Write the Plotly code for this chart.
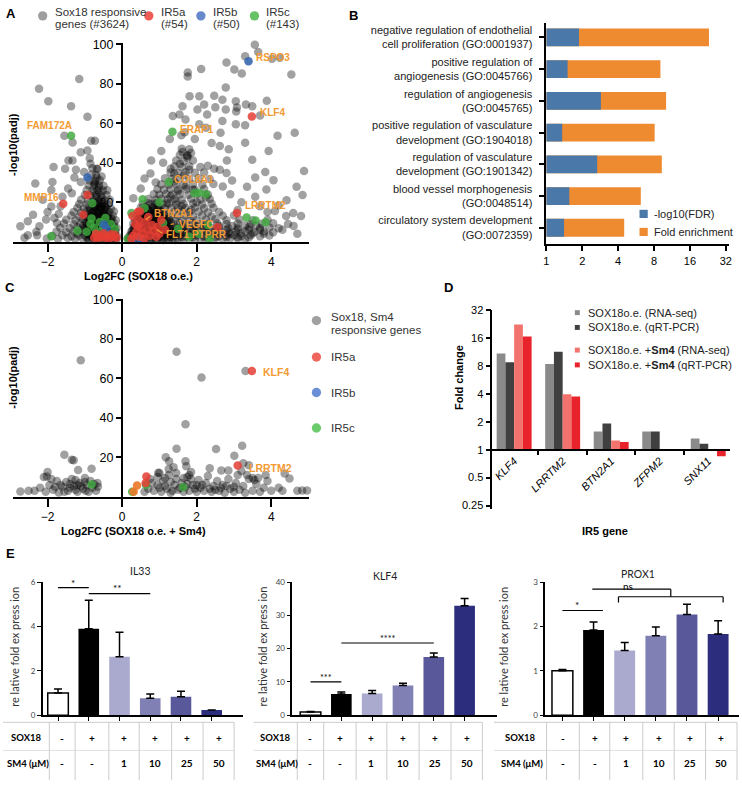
import numpy as np
import plotly.graph_objects as go

W, H = 742, 785
def px(X): return X / W
def py(Y): return 1 - Y / H

SANS = "Liberation Sans, Arial, Helvetica, sans-serif"
CAL = "Lato, Liberation Sans, sans-serif"
ORANGE_TXT = "#f39a33"

# ---------------- Panel A data (Log2FC, -log10 padj) ----------------
a_gray_sparse = [(-1.15,82.5),(-2.23,77.5),(-1.98,71.2),(-1.37,68.7),(-0.93,63.3),(-1.55,53.7),(-1.33,50.3),(-0.83,51.2),(-0.73,51.2),(-1.11,45.3),(-0.93,46.2),(-0.87,42.3),(-1.44,41.2),(-1.33,41.2),(-1.84,37.8),(-1.53,37.0),(-1.24,36.5),(-0.68,37.0),(-0.85,39.5),(-1.02,35.3),(-1.28,32.5),(-2.33,29.5),(-1.87,30.3),(-1.11,30.3),(-1.90,26.2),(-1.60,22.8),(-2.13,21.2),(-1.90,17.8),(-2.39,13.7),(-2.53,10.3),(-2.73,7.8),(-2.53,3.2),(-2.22,7.8),(-2.04,11.2),(-1.70,14.0),(-1.82,12.0),(-1.65,18.0),(-2.00,15.0),(-2.62,2.0),(-2.30,5.0),(-1.75,9.5),(-1.45,27.0),(-1.35,24.5),(-0.72,29.0),(-0.62,25.0),(-0.55,33.0),
 (3.56,99.8),(3.65,96.2),(4.23,93.2),(4.02,92.8),(3.30,94.0),(2.80,90.8),(3.01,87.3),(3.21,85.3),(4.54,84.8),(2.12,87.5),(1.76,85.8),(1.76,83.7),(2.78,78.2),(1.81,73.7),(2.07,73.7),(2.47,74.0),(2.69,72.0),(3.05,71.2),(3.32,69.5),(3.88,71.5),(1.62,68.7),(2.02,67.0),(2.20,69.5),(2.78,67.0),(2.50,68.2),(3.08,68.0),(3.06,66.0),(3.49,68.7),(1.36,63.7),(1.54,64.5),(2.28,64.5),(2.69,61.2),(3.05,59.5),(2.07,59.5),(2.25,57.8),(1.28,52.0),(1.68,55.5),(1.59,54.0),(2.64,55.2),(3.30,50.2),(2.62,48.5),(2.86,46.8),(3.93,46.0),(4.17,53.7),(4.63,55.2),(1.62,45.5),(1.75,43.5),(1.85,45.0),(2.30,38.5),(2.47,37.0),(2.62,36.5),(2.80,34.8),(2.81,41.2),(3.49,41.5),(0.78,41.2),(0.76,34.5),(1.30,37.0),(1.40,34.5),(3.84,35.3),(4.88,35.8),(3.57,32.5),(4.06,31.2),(4.68,27.8),(4.84,23.7),(5.03,25.0),(3.87,26.5),(3.35,27.8),(3.57,22.8),(4.41,21.0),(4.59,14.5),(4.40,13.0),(4.80,13.0),(4.10,15.5),(4.20,18.5),(3.70,18.0),(3.20,20.0),(2.90,24.0),(2.70,28.0),(2.95,31.0),(3.10,16.0),(4.45,9.0),(4.70,4.0),(0.90,30.0),(0.50,27.0),(0.30,22.0),(0.60,32.0),(1.10,40.0),(1.05,46.0),(1.70,62.0),(1.95,52.0),(2.40,50.0),(3.30,59.0),(3.70,64.0),(4.30,6.0),(4.60,8.0),(3.90,15.0)]

a_gray_dense_left = [(-2.02,1.6),(-1.72,1.4),(-1.46,1.8),(-1.26,1.3),(-1.06,1.7),(-0.91,1.4),(-0.76,1.6),(-0.61,1.3),(-0.46,1.7),(-0.31,1.4),(-0.18,1.6),
 (-2.28,3.2),(-1.88,2.9),(-1.60,3.3),(-1.36,2.8),(-1.16,3.1),(-1.00,3.3),(-0.85,2.9),(-0.70,3.2),(-0.55,2.8),(-0.40,3.1),(-0.26,3.3),(-0.14,2.9),
 (-1.76,5.2),(-1.50,4.8),(-1.30,5.1),(-1.10,5.3),(-0.96,4.9),(-0.80,5.2),(-0.65,4.8),(-0.50,5.1),(-0.36,5.3),(-0.20,4.9),
 (-1.66,7.1),(-1.41,6.8),(-1.20,7.3),(-1.03,6.9),(-0.88,7.2),(-0.72,6.8),(-0.58,7.1),(-0.43,7.3),(-0.28,6.9),(-0.15,7.1),
 (-1.56,9.2),(-1.30,8.8),(-1.12,9.1),(-0.95,9.3),(-0.80,8.9),(-0.65,9.2),(-0.50,8.8),(-0.35,9.1),(-0.22,9.3),
 (-1.50,11.1),(-1.25,10.8),(-1.05,11.3),(-0.90,10.9),(-0.75,11.2),(-0.60,10.8),(-0.45,11.1),(-0.30,11.3),(-0.17,10.9),
 (-1.36,13.2),(-1.15,12.8),(-1.00,13.1),(-0.85,13.3),(-0.70,12.9),(-0.55,13.2),(-0.40,12.8),(-0.25,13.1),
 (-1.30,15.1),(-1.10,14.8),(-0.95,15.3),(-0.80,14.9),(-0.65,15.2),(-0.50,14.8),(-0.35,15.1),(-0.22,15.3),
 (-1.20,17.2),(-1.02,16.8),(-0.88,17.1),(-0.73,17.3),(-0.58,16.9),(-0.45,17.2),(-0.30,16.8),
 (-1.15,19.1),(-0.95,18.8),(-0.80,19.3),(-0.65,18.9),(-0.50,19.2),(-0.38,18.8),
 (-1.10,21.2),(-0.92,20.8),(-0.76,21.1),(-0.62,21.3),(-0.48,20.9),(-0.33,21.2),
 (-1.00,23.6),(-0.85,23.3),(-0.70,23.7),(-0.56,23.4),(-0.42,23.6),
 (-0.95,26.1),(-0.80,25.8),(-0.66,26.2),(-0.52,25.9),(-0.40,26.1),
 (-0.90,28.6),(-0.76,28.3),(-0.62,28.7),(-0.50,28.4),
 (-0.88,31.1),(-0.72,30.8),(-0.60,31.2),(-0.82,34.1),(-0.70,33.8),(-0.80,37.2),(-0.66,36.9),
 (-0.95,2.1),(-0.80,2.3),(-0.65,1.9),(-0.50,2.2),(-0.38,2.0),(-0.27,2.3),
 (-1.20,4.1),(-0.90,3.9),(-0.75,4.2),(-0.60,4.0),(-0.45,3.8),(-0.30,4.1),
 (-1.00,6.1),(-0.85,5.9),(-0.70,6.2),(-0.55,6.0),(-0.42,5.8),(-0.30,6.1),
 (-1.05,8.1),(-0.90,7.9),(-0.74,8.2),(-0.60,8.0),(-0.46,7.8),(-0.33,8.1),
 (-0.98,10.1),(-0.83,9.9),(-0.68,10.2),(-0.54,10.0),(-0.40,9.8),
 (-0.92,12.1),(-0.78,11.9),(-0.63,12.2),(-0.50,12.0),(-0.37,11.8),
 (-0.90,14.1),(-0.75,13.9),(-0.60,14.2),(-0.47,14.0),
 (-0.85,16.1),(-0.70,15.9),(-0.55,16.2),(-0.42,16.0),
 (-0.80,18.1),(-0.65,17.9),(-0.52,18.2),(-0.78,20.1),(-0.62,19.9),
 (-0.88,1.0),(-0.72,0.9),(-0.58,1.1),(-0.42,0.9),(-0.28,1.0),(-0.16,0.8),
 (-0.85,3.5),(-0.68,3.6),(-0.52,3.4),(-0.35,3.6),(-0.20,3.3),
 (-0.92,5.6),(-0.78,5.5),(-0.62,5.7),(-0.46,5.4),(-0.32,5.6),(-0.18,5.5),
 (-0.95,7.6),(-0.80,7.5),(-0.64,7.7),(-0.50,7.4),(-0.36,7.6),(-0.22,7.5),
 (-0.88,9.6),(-0.72,9.5),(-0.58,9.7),(-0.44,9.4),(-0.30,9.6),
 (-0.85,11.6),(-0.70,11.5),(-0.56,11.7),(-0.42,11.4),(-0.28,11.6),
 (-0.82,13.6),(-0.66,13.5),(-0.52,13.7),(-0.38,13.4),
 (-0.78,15.6),(-0.62,15.5),(-0.48,15.7),(-0.74,17.6),(-0.58,17.5),(-0.45,17.7),
 (-0.70,19.6),(-0.56,19.5),(-0.68,22.5),(-0.55,22.4),(-0.75,25.0),(-0.62,27.3),(-0.75,30.0),(-0.68,32.5)]

a_gray_dense_right = [(0.15,1.6),(0.30,1.3),(0.45,1.7),(0.60,1.4),(0.75,1.6),(0.90,1.3),(1.05,1.7),(1.20,1.5),(1.35,1.3),(1.50,1.7),(1.65,1.4),(1.80,1.6),(1.95,1.3),(2.10,1.7),(2.30,1.4),(2.50,1.6),(2.70,1.3),(2.90,1.7),(3.10,1.5),(3.30,1.4),
 (0.20,3.1),(0.35,2.8),(0.50,3.3),(0.65,2.9),(0.80,3.2),(0.95,2.8),(1.10,3.1),(1.25,3.3),(1.40,2.9),(1.55,3.2),(1.70,2.8),(1.85,3.1),(2.00,3.3),(2.20,2.9),(2.40,3.2),(2.60,2.8),(2.80,3.1),(3.00,3.3),(3.20,2.9),(3.45,3.2),(3.70,2.8),(3.95,3.1),
 (0.25,5.2),(0.40,4.8),(0.55,5.1),(0.70,5.3),(0.85,4.9),(1.00,5.2),(1.15,4.8),(1.30,5.1),(1.45,5.3),(1.60,4.9),(1.75,5.2),(1.90,4.8),(2.05,5.1),(2.25,5.3),(2.45,4.9),(2.65,5.2),(2.85,4.8),(3.05,5.1),(3.30,5.3),(3.55,4.9),(3.80,5.2),(4.05,4.8),
 (0.30,7.1),(0.45,6.8),(0.60,7.3),(0.75,6.9),(0.90,7.2),(1.05,6.8),(1.20,7.1),(1.35,7.3),(1.50,6.9),(1.65,7.2),(1.80,6.8),(2.00,7.1),(2.20,7.3),(2.40,6.9),(2.60,7.2),(2.85,6.8),(3.10,7.1),(3.40,7.3),(3.70,6.9),(3.95,7.2),(4.20,6.8),
 (0.30,9.2),(0.48,8.8),(0.63,9.1),(0.78,9.3),(0.93,8.9),(1.08,9.2),(1.23,8.8),(1.38,9.1),(1.55,9.3),(1.72,8.9),(1.90,9.2),(2.10,8.8),(2.30,9.1),(2.55,9.3),(2.80,8.9),(3.10,9.2),(3.45,8.8),(3.75,9.1),(4.05,9.3),
 (0.35,11.1),(0.50,10.8),(0.65,11.3),(0.80,10.9),(0.95,11.2),(1.10,10.8),(1.25,11.1),(1.40,11.3),(1.60,10.9),(1.80,11.2),(2.00,10.8),(2.25,11.1),(2.50,11.3),(2.80,10.9),(3.15,11.2),(3.50,10.8),(3.90,11.1),
 (0.40,13.2),(0.55,12.8),(0.70,13.1),(0.85,13.3),(1.00,12.9),(1.15,13.2),(1.30,12.8),(1.50,13.1),(1.70,13.3),(1.90,12.9),(2.15,13.2),(2.40,12.8),(2.70,13.1),(3.00,13.3),
 (0.45,15.1),(0.60,14.8),(0.75,15.3),(0.90,14.9),(1.05,15.2),(1.20,14.8),(1.40,15.1),(1.60,15.3),(1.80,14.9),(2.05,15.2),(2.30,14.8),(2.60,15.1),
 (0.50,17.2),(0.68,16.8),(0.85,17.1),(1.00,17.3),(1.15,16.9),(1.32,17.2),(1.50,16.8),(1.70,17.1),(1.95,17.3),(2.20,16.9),(2.45,17.2),
 (0.55,19.1),(0.75,18.8),(0.92,19.3),(1.08,18.9),(1.25,19.2),(1.45,18.8),(1.65,19.1),(1.90,19.3),(2.15,18.9),(2.40,19.2),
 (0.70,21.6),(0.90,21.3),(1.05,21.7),(1.22,21.4),(1.40,21.6),(1.60,21.3),(1.85,21.7),(2.10,21.4),(2.35,21.6),
 (0.85,24.1),(1.00,23.8),(1.18,24.2),(1.35,23.9),(1.55,24.1),(1.78,23.8),(2.00,24.2),(2.30,23.9),
 (0.95,26.6),(1.12,26.3),(1.30,26.7),(1.50,26.4),(1.72,26.6),(1.95,26.3),(2.20,26.7),
 (1.05,29.1),(1.25,28.8),(1.45,29.2),(1.65,28.9),(1.90,29.1),(2.15,28.8),(2.45,29.2),
 (1.15,32.1),(1.35,31.8),(1.55,32.2),(1.80,31.9),(2.05,32.1),(2.35,31.8),
 (1.30,35.1),(1.50,34.8),(1.70,35.2),(1.95,34.9),(2.20,35.1),
 (1.40,38.1),(1.60,37.8),(1.80,38.2),(2.10,37.9),(1.45,41.1),(1.65,40.8),(1.90,41.2),
 (1.55,44.1),(1.75,43.8),(1.60,47.1),(1.80,46.8),
 (0.22,2.2),(0.38,2.0),(0.52,2.3),(0.68,2.1),(0.82,1.9),(0.98,2.2),(1.12,2.0),(1.28,2.3),
 (0.30,4.1),(0.45,3.9),(0.60,4.2),(0.75,4.0),(0.90,3.8),(1.05,4.1),(1.20,3.9),(1.35,4.2),
 (0.32,6.1),(0.50,5.9),(0.65,6.2),(0.80,6.0),(0.95,5.8),(1.10,6.1),(1.28,5.9),
 (0.38,8.1),(0.55,7.9),(0.70,8.2),(0.85,8.0),(1.00,7.8),(1.18,8.1),
 (0.42,10.1),(0.58,9.9),(0.73,10.2),(0.88,10.0),(1.05,9.8),(1.20,10.1),
 (0.48,12.1),(0.64,11.9),(0.80,12.2),(0.95,12.0),(1.10,11.8),
 (0.55,14.1),(0.70,13.9),(0.85,14.2),(1.00,14.0),(0.60,16.1),(0.78,15.9),(0.95,16.2),
 (0.18,0.9),(0.32,1.0),(0.48,0.8),(0.62,1.0),(0.78,0.9),(0.95,1.0),(1.10,0.8),(1.25,1.0),(1.42,0.9),
 (0.25,3.6),(0.42,3.5),(0.58,3.7),(0.72,3.4),(0.88,3.6),(1.02,3.5),(1.18,3.7),(1.32,3.4),(1.48,3.6),
 (0.28,5.6),(0.45,5.5),(0.60,5.7),(0.76,5.4),(0.92,5.6),(1.08,5.5),(1.22,5.7),(1.38,5.4),
 (0.34,7.6),(0.50,7.5),(0.66,7.7),(0.82,7.4),(0.96,7.6),(1.12,7.5),(1.28,7.7),(1.44,7.4),
 (0.38,9.6),(0.54,9.5),(0.70,9.7),(0.85,9.4),(1.00,9.6),(1.15,9.5),(1.30,9.7),
 (0.45,11.6),(0.60,11.5),(0.76,11.7),(0.90,11.4),(1.05,11.6),(1.20,11.5),
 (0.50,13.6),(0.66,13.5),(0.82,13.7),(0.96,13.4),(1.12,13.6),
 (0.56,15.6),(0.72,15.5),(0.88,15.7),(1.02,15.4),(0.62,17.6),(0.80,17.5),(0.96,17.7),(0.70,19.6),(0.88,19.5),
 (1.60,2.2),(1.90,2.4),(2.20,2.1),(2.50,2.3),(2.80,2.2),(3.10,2.4),(3.40,2.1),
 (1.70,4.2),(2.00,4.0),(2.30,4.3),(2.60,4.1),(2.90,4.0),(3.20,4.2),(3.50,4.1),(3.80,4.0),
 (1.60,6.2),(1.90,6.0),(2.20,6.3),(2.50,6.1),(2.80,6.0),(3.10,6.2),(3.40,6.1),(3.70,6.0),
 (1.65,8.2),(1.95,8.0),(2.25,8.3),(2.60,8.1),(2.95,8.0),(3.30,8.2),(3.60,8.1),
 (1.30,23.0),(1.50,25.5),(1.70,28.0),(1.40,30.5),(1.65,33.5),(1.80,36.5),(1.55,39.5),(1.75,42.5),(1.20,19.5),(1.45,20.5),(1.60,18.0),(1.85,16.0),(2.00,20.0),(2.25,22.5),(1.90,26.5)]

a_green = [(-1.37,53.7),(-0.80,19.5),(-1.90,2.7),(-0.95,5.0),(-0.85,9.0),(-0.75,7.0),(-0.70,4.0),(-0.60,10.0),(-0.55,5.5),(-0.45,12.0),(-0.40,3.5),(-0.50,7.5),(-0.82,11.8),(-0.30,9.0),(-1.20,5.5),(-0.65,2.5),(-0.20,6.5),
 (1.35,55.7),(1.25,30.2),(1.94,24.5),(2.07,24.8),(2.25,24.0),(3.34,12.3),(3.58,10.7),(3.85,9.8),(2.30,8.5),(2.05,4.0),(1.80,2.5),(1.50,6.5),(1.10,9.5),(0.60,17.0),(0.25,14.5),(1.00,20.0),(0.55,21.5),(2.35,1.5),(0.15,1.5)]
a_blue = [(3.39,91.5),(-0.93,32.5),(-0.49,8.7),(-0.42,6.5),(0.50,1.5),(0.35,2.0)]
a_red = [(3.48,63.5),(3.08,14.5),(2.56,7.3),(-1.58,19.2),(-0.93,23.7),(-1.04,13.7),
 (-0.75,2.0),(-0.65,1.8),(-0.55,2.2),(-0.45,2.0),(-0.35,1.8),(-0.25,2.2),(-0.15,2.0),(-0.70,4.0),(-0.50,4.2),(-0.30,3.8),(-0.20,3.5),(-0.60,3.0),(-0.40,2.8),
 (0.30,3.0),(0.38,5.0),(0.45,2.5),(0.50,7.0),(0.55,4.0),(0.62,10.0),(0.68,6.0),(0.75,3.0),(0.80,8.5),(0.85,5.5),(0.92,2.5),(0.35,9.0),(0.28,13.0),(0.42,15.0),(0.70,12.5),(0.95,7.5),(1.00,4.0),(1.15,6.0),(0.45,11.0),(1.05,11.0),(0.25,1.5),(0.60,1.5),(0.48,15.3),(0.43,7.8)]

a_gene_labels = ["RSPO3","KLF4","FAM172A","ERAP1","COL8A1","MMP16","LRRTM2","BTN2A1","VEGFC","FLT1","PTPRR"]

# ---------------- Panel C data ----------------
c_gray = [(-1.11,69.2),(1.46,73.5),(2.13,60.5),(3.31,63.8),(1.70,36.8),(1.46,24.3),(2.52,24.2),(3.22,25.8),(3.01,20.8),(1.17,20.0),(1.26,18.0),(1.70,18.0),(1.72,15.5),(2.35,14.5),(2.66,13.3),(2.85,13.3),(3.20,13.0),(3.35,11.0),(3.50,9.5),(3.65,9.5),(4.36,11.8),(4.49,9.3),(4.70,3.0),(4.83,3.1),(4.96,3.2),(1.00,12.0),(0.95,10.0),(3.40,16.0),(3.25,17.0),(0.80,7.0),(-1.55,21.3),(-1.35,18.8),(-1.30,18.5),(-1.18,13.5),(-0.82,14.2),(-2.00,12.5),(-2.02,10.2),(-0.66,7.0),(-2.73,2.7),(-2.51,3.0),
 (-2.35,3.0),(-2.20,4.5),(-2.05,2.5),(-1.95,6.0),(-1.85,3.5),(-1.75,8.0),(-1.70,2.2),(-1.60,5.0),(-1.50,7.5),(-1.45,3.0),(-1.35,9.0),(-1.30,5.5),(-1.20,2.5),(-1.15,7.0),(-1.05,4.0),(-1.00,9.5),(-0.95,6.0),(-0.90,2.5),(-0.85,8.0),(-0.80,4.5),(-0.75,6.5),(-0.70,3.0),(-1.25,8.5),(-1.55,2.5),(-1.90,9.0),(-2.10,10.0),(-1.40,6.5),(-1.10,5.5),(-0.98,3.0),(-1.65,6.0),(-0.65,5.0),(-1.80,5.0),(-1.25,3.5),(-1.20,6.0),(-1.00,7.5),(-1.40,4.5),
 (0.85,3.0),(0.95,6.0),(1.05,2.5),(1.10,8.0),(1.20,4.0),(1.25,11.0),(1.30,2.0),(1.40,6.0),(1.45,9.0),(1.50,3.5),(1.60,7.0),(1.65,2.5),(1.70,5.0),(1.75,10.0),(1.80,3.0),(1.85,12.5),(1.90,6.0),(2.00,2.5),(2.05,8.5),(2.10,4.5),(2.20,3.0),(2.25,7.0),(2.30,10.5),(2.40,2.5),(2.45,5.5),(2.55,8.0),(2.60,3.0),(2.70,6.0),(2.75,2.0),(2.85,9.0),(2.90,4.0),(3.00,2.5),(3.05,7.0),(3.10,11.0),(3.15,3.5),(3.25,5.5),(3.30,2.0),(3.40,9.0),(3.50,3.0),(3.60,6.5),(3.70,2.5),(3.80,4.5),(3.90,8.0),(4.00,3.0),(1.00,4.5),(1.15,5.5),(1.35,3.0),(1.55,4.5),(1.75,6.5),(1.95,4.0),(2.15,6.0),(2.35,4.0),(2.50,3.5),(2.65,4.5),(1.30,7.5),(1.45,12.0),(1.15,9.5),(1.65,9.5),(0.70,4.0),(0.75,9.0),(0.60,2.5),(1.85,9.0),(2.00,6.0),(2.80,5.5),(3.00,5.0),(3.55,8.5),(4.20,4.5),(4.30,3.0),(3.85,11.0),(1.38,15.0),(1.25,14.0),(1.80,11.0),(0.97,12.2)]
c_red = [(3.48,63.8),(3.10,15.8),(0.65,10.3),(0.63,7.0)]
c_orange = [(0.40,5.7),(0.31,2.5)]
c_green = [(0.27,2.5),(0.64,6.0),(1.64,4.8),(-0.82,6.2)]
c_gene_labels = ["KLF4","LRRTM2"]

# ---------------- Panel B data ----------------
b_terms = ["negative regulation of endothelial<br>cell proliferation (GO:0001937)",
           "positive regulation of<br>angiogenesis (GO:0045766)",
           "regulation of angiogenesis<br>(GO:0045765)",
           "positive regulation of vasculature<br>development (GO:1904018)",
           "regulation of vasculature<br>development (GO:1901342)",
           "blood vessel morphogenesis<br>(GO:0048514)",
           "circulatory system development<br>(GO:0072359)"]
b_neglog_fdr = [1.88, 1.51, 2.87, 1.36, 2.67, 1.56, 1.41]
b_fold_enrichment = [23.1, 9.05, 10.1, 8.1, 9.3, 6.2, 4.5]
b_ticks = [1, 2, 4, 8, 16, 32]

# ---------------- Panel D data ----------------
d_genes = ["KLF4", "LRRTM2", "BTN2A1", "ZFPM2", "SNX11"]
d_rnaseq = [10.9, 8.4, 1.57, 1.57, 1.32]
d_qpcr = [8.8, 11.4, 1.92, 1.57, 1.16]
d_sm4_rnaseq = [22.5, 3.97, 1.26, 1.0, 1.0]
d_sm4_qpcr = [16.7, 3.75, 1.21, 1.0, 0.85]
d_ticks = [0.25, 0.5, 1, 2, 4, 8, 16, 32]

# ---------------- Panel E data ----------------
e_sox18 = ["-", "+", "+", "+", "+", "+"]
e_sm4 = ["-", "-", "1", "10", "25", "50"]
il33_mean = [1.0, 3.9, 2.64, 0.77, 0.83, 0.24]
il33_err = [0.18, 1.28, 1.1, 0.19, 0.25, 0.0]
klf4_mean = [1.0, 6.4, 6.5, 8.9, 17.5, 32.9]
klf4_err = [0.15, 0.6, 0.9, 0.7, 1.2, 2.2]
prox1_mean = [1.0, 1.92, 1.46, 1.79, 2.27, 1.83]
prox1_err = [0.03, 0.18, 0.18, 0.2, 0.23, 0.3]
e_colors = ["white", "black", "#aaaacf", "#8080b5", "#58589a", "#2d2d7d"]

fig = go.Figure()

def xy(pts):
    return [p[0] for p in pts], [p[1] for p in pts]

def scat(pts, color, xa, ya, size=8.5):
    x, y = xy(pts)
    fig.add_trace(go.Scatter(x=x, y=y, mode="markers", xaxis=xa, yaxis=ya,
                             showlegend=False, hoverinfo="skip", cliponaxis=False,
                             marker=dict(size=size, color=color, line=dict(width=0))))

GRAY = "rgba(0,0,0,0.37)"
RED = "rgba(228,62,52,0.85)"
GREEN = "rgba(62,168,62,0.82)"
BLUE = "rgba(50,100,175,0.88)"

scat(a_gray_sparse + a_gray_dense_left + a_gray_dense_right, GRAY, "x", "y")
scat(a_green, GREEN, "x", "y")
scat(a_blue, BLUE, "x", "y")
scat(a_red, RED, "x", "y")
scat(c_gray, GRAY, "x2", "y2")
scat(c_green, GREEN, "x2", "y2")
scat(c_orange, "rgba(235,120,40,0.9)", "x2", "y2")
scat(c_red, RED, "x2", "y2")

fig.add_trace(go.Bar(y=b_terms, x=np.log2(b_fold_enrichment), orientation="h", xaxis="x3", yaxis="y3",
                     marker=dict(color="#ee8a30", line=dict(width=0)), width=0.56, offset=-0.28,
                     showlegend=False, hoverinfo="skip"))
fig.add_trace(go.Bar(y=b_terms, x=np.log2(b_neglog_fdr), orientation="h", xaxis="x3", yaxis="y3",
                     marker=dict(color="#4a78a8", line=dict(width=0)), width=0.56, offset=-0.28,
                     showlegend=False, hoverinfo="skip"))

d_series = [(d_rnaseq, "#8a8a8a"), (d_qpcr, "#404040"), (d_sm4_rnaseq, "#f2736d"), (d_sm4_qpcr, "#e8232b")]
for k, (vals, col) in enumerate(d_series):
    fig.add_trace(go.Bar(x=d_genes, y=np.log2(vals), xaxis="x4", yaxis="y4",
                         marker=dict(color=col, line=dict(width=0)), width=0.18, offset=-0.36 + 0.18 * k,
                         showlegend=False, hoverinfo="skip"))

for xa, ya, mean, err in [("x5", "y5", il33_mean, il33_err), ("x6", "y6", klf4_mean, klf4_err), ("x7", "y7", prox1_mean, prox1_err)]:
    fig.add_trace(go.Bar(x=list(range(6)), y=mean, xaxis=xa, yaxis=ya, width=0.67,
                         marker=dict(color=e_colors, line=dict(color="black", width=[1.5, 0, 0, 0, 0, 0])),
                         error_y=dict(type="data", array=err, arrayminus=[0] * 6, symmetric=False,
                                      color="black", thickness=1.5, width=4),
                         showlegend=False, hoverinfo="skip"))

axis_common = dict(showgrid=False, zeroline=False, showline=True, linecolor="black", ticks="outside", tickcolor="black")

layout = dict(width=W, height=H, margin=dict(l=0, r=0, t=0, b=0), paper_bgcolor="white", plot_bgcolor="rgba(0,0,0,0)",
              showlegend=False, hovermode=False, font=dict(family=SANS, size=11, color="black"))

layout["xaxis"] = dict(axis_common, domain=[px(10), px(308)], range=[-2.93, 5.0], anchor="y", linewidth=2,
                       tickwidth=2, ticklen=8, tickvals=[-2, 0, 2, 4], tickfont=dict(size=12))
layout["yaxis"] = dict(axis_common, domain=[py(239), py(38)], range=[0, 100.5], anchor="free", position=px(120),
                       linewidth=2, tickwidth=2, ticklen=5, tickvals=[20, 40, 60, 80, 100], tickfont=dict(size=12.5))
layout["xaxis2"] = dict(axis_common, domain=[px(10), px(308)], range=[-2.93, 5.0], anchor="y2", linewidth=2,
                        tickwidth=2, ticklen=8, tickvals=[-2, 0, 2, 4], tickfont=dict(size=12))
layout["yaxis2"] = dict(axis_common, domain=[py(497.7), py(296.7)], range=[0, 100.5], anchor="free", position=px(120),
                        linewidth=2, tickwidth=2, ticklen=5, tickvals=[20, 40, 60, 80, 100], tickfont=dict(size=12.5))
layout["xaxis3"] = dict(axis_common, domain=[px(547.7), px(732)], range=[0, 5.09], anchor="y3", linewidth=1.5,
                        tickwidth=1.5, ticklen=6, tickvals=list(np.log2(b_ticks)), ticktext=[str(t) for t in b_ticks],
                        tickfont=dict(size=11))
layout["yaxis3"] = dict(axis_common, domain=[py(241), py(17)], type="category", categoryorder="array",
                        categoryarray=b_terms, range=[6.5, -0.46], anchor="x3", linewidth=1.5, tickwidth=1.5,
                        ticklen=6, tickfont=dict(size=11, color="#222"), ticklabelstandoff=4)
layout["xaxis4"] = dict(axis_common, domain=[px(493.3), px(733)], type="category", categoryorder="array",
                        categoryarray=d_genes, range=[-0.45, 4.45], anchor="free", position=py(450),
                        linewidth=1.5, tickwidth=1.5, ticklen=5, tickson="boundaries", tickangle=-45,
                        tickfont=dict(size=11, style="italic"))
layout["yaxis4"] = dict(axis_common, domain=[py(510), py(308)], range=[-2.12, 5.02], anchor="x4", linewidth=1.5,
                        tickwidth=1.5, ticklen=5, tickvals=list(np.log2(d_ticks)), ticktext=[f"{t:g}" for t in d_ticks],
                        tickfont=dict(size=11))
e_specs = [("5", [40, 241.7], [-0.5, 6.01], [0, 6], [0, 2, 4, 6]),
           ("6", [291.7, 498], [-0.59, 6.05], [0, 40], [0, 10, 20, 30, 40]),
           ("7", [546.7, 742], [-0.55, 5.67], [0, 3], [0, 1, 2, 3])]
for n, dom, xr, yr, yt in e_specs:
    layout["xaxis" + n] = dict(axis_common, domain=[px(dom[0]), px(dom[1])], range=xr, anchor="y" + n,
                               linewidth=1.5, tickwidth=1.2, ticklen=4, tickvals=list(range(6)), showticklabels=False)
    layout["yaxis" + n] = dict(axis_common, domain=[py(719.3), py(584.3)], range=yr, anchor="x" + n,
                               linewidth=1.5, tickwidth=1.2, ticklen=4, tickvals=yt,
                               tickfont=dict(size=8, family=CAL, color="#444"))

fig.update_layout(**layout)

ann = []
shapes = []

def text(X, Y, s, size=11, bold=False, color="black", xanchor="left", family=SANS, angle=0):
    ann.append(dict(x=px(X), y=py(Y), xref="paper", yref="paper", text=(f"<b>{s}</b>" if bold else s),
                    showarrow=False, xanchor=xanchor, yanchor="middle", textangle=angle,
                    font=dict(size=size, color=color, family=family)))

def dot(X, Y, color, r=4.7):
    shapes.append(dict(type="circle", xref="paper", yref="paper", x0=px(X - r), x1=px(X + r),
                       y0=py(Y + r), y1=py(Y - r), fillcolor=color, line=dict(width=0)))

def rect(X0, Y0, X1, Y1, color):
    shapes.append(dict(type="rect", xref="paper", yref="paper", x0=px(X0), x1=px(X1), y0=py(Y1), y1=py(Y0),
                       fillcolor=color, line=dict(width=0)))

def pline(X0, Y0, X1, Y1, color="black", width=1):
    shapes.append(dict(type="line", xref="paper", yref="paper", x0=px(X0), x1=px(X1), y0=py(Y0), y1=py(Y1),
                       line=dict(color=color, width=width)))

def dline(xa, ya, x0, y0, x1, y1, width=1.2):
    shapes.append(dict(type="line", xref=xa, yref=ya, x0=x0, x1=x1, y0=y0, y1=y1,
                       line=dict(color="black", width=width)))

for L, X, Y in [("A", 8, 8), ("B", 353, 10), ("C", 7, 286), ("D", 449, 285), ("E", 8, 555)]:
    text(X, Y, L, size=13, bold=True, xanchor="center")

for X, col in [(40, "#9e9e9e"), (147, "#ef5d55"), (199.5, "#6688cc"), (253.5, "#66c266")]:
    dot(X, 10, col)
for X, l1, l2 in [(50, "Sox18 responsive", "genes (#3624)"), (157, "IR5a", "(#54)"), (210, "IR5b", "(#50)"), (263, "IR5c", "(#143)")]:
    text(X, 6, l1, size=11.5, color="#333")
    text(X, 18.5, l2, size=11.5, color="#333")

a_label_pos = [(253, 52.3), (257, 108.3), (21.7, 121.7), (176.7, 125), (170, 175.7), (19.3, 194), (241.7, 202.3),
               (150, 210.3), (175, 221.3), (162.3, 231.3), (189, 231.3)]
for s, (X, Y) in zip(a_gene_labels, a_label_pos):
    text(X, Y, s, size=10, bold=True, color=ORANGE_TXT)
pline(144, 216.7, 148.3, 213.3, ORANGE_TXT, 1.2)
pline(169, 221.5, 172.5, 221, ORANGE_TXT, 1.2)
pline(155, 226.7, 160.5, 230.5, ORANGE_TXT, 1.2)
text(137, 274, "Log2FC (SOX18 o.e.)", bold=True, xanchor="center")
text(10, 140, "-log10(padj)", bold=True, xanchor="center", angle=-90)

for s, (X, Y) in zip(c_gene_labels, [(260, 371.7), (245.7, 468.3)]):
    text(X, Y, s, size=10.5, bold=True, color=ORANGE_TXT)
text(131.7, 532, "Log2FC (SOX18 o.e. + Sm4)", bold=True, xanchor="center")
text(10, 376, "-log10(padj)", bold=True, xanchor="center", angle=-90)
for Y, col in [(319, "#a0a0a0"), (356, "#f0665e"), (392, "#6a8fd6"), (428, "#6ccc6c")]:
    dot(316, Y, col)
text(329, 315, "Sox18, Sm4", size=11.5, color="#333")
text(329, 328.5, "responsive genes", size=11.5, color="#333")
text(329, 356, "IR5a", size=11.5, color="#333")
text(329, 392, "IR5b", size=11.5, color="#333")
text(329, 428, "IR5c", size=11.5, color="#333")

rect(641.7, 206.7, 650, 215, "#4a78a8")
rect(641.7, 225, 650, 233.3, "#ee8a30")
text(654, 211, "-log10(FDR)", size=11, color="#222")
text(654, 229, "Fold enrichment", size=11, color="#222")

for Y, col, s in [(311, "#8a8a8a", "SOX18o.e. (RNA-seq)"), (326, "#404040", "SOX18o.e. (qRT-PCR)"),
                  (349, "#f2736d", "SOX18o.e. +<b>Sm4</b> (RNA-seq)"), (364, "#e8232b", "SOX18o.e. +<b>Sm4</b> (qRT-PCR)")]:
    rect(576.5, Y - 2.5, 581.5, Y + 2.5, col)
    text(588, Y, s, size=11, color="#222")
text(459, 377, "Fold change", bold=True, xanchor="center", angle=-90)
text(607, 532, "IR5 gene", bold=True, xanchor="center")

for X, Y, s in [(138.3, 572.7, "IL33"), (385, 578.3, "KLF4"), (640, 576, "PROX1")]:
    text(X, Y, s, size=10.5, family=CAL, color="#222", xanchor="center")
for X in [12, 261.7, 505]:
    text(X, 650, "re lative fold ex press ion", size=11, family=CAL, color="#333", xanchor="center", angle=-90)

# significance bars (data coordinates) and their marks
dline("x5", "y5", 0, 5.75, 1, 5.75)
dline("x5", "y5", 1, 5.48, 3, 5.48)
dline("x6", "y6", 0, 10.0, 1, 10.0)
dline("x6", "y6", 1, 21.7, 4, 21.7)
dline("x7", "y7", 0, 2.36, 1.3, 2.36)
dline("x7", "y7", 0.96, 2.84, 3.48, 2.84); dline("x7", "y7", 3.48, 2.84, 3.48, 2.67)
dline("x7", "y7", 1.8, 2.67, 5.16, 2.67); dline("x7", "y7", 1.8, 2.67, 1.8, 2.54); dline("x7", "y7", 5.16, 2.67, 5.16, 2.54)
for X, Y, s, sz in [(70.7, 585, "*", 10), (115, 590, "**", 10), (325.5, 681, "***", 9), (387.5, 641, "****", 9),
                    (578.3, 608, "*", 10), (630, 588, "ns", 10)]:
    text(X, Y, s, size=sz, family=CAL, xanchor="center")

tables = [(0, [46.7, 72.7, 106.7, 137.3, 170, 201.7, 233]),
          (252.7, [296.7, 323.3, 356, 387, 419.5, 451.7, 483.3]),
          (495, [548, 581, 611.7, 645, 676.7, 708.3, 740])]
TOP, MID, BOT = 726.5, 755, 785
for left, divs in tables:
    pline(left, TOP, divs[-1], TOP, "#cccccc", 1)
    pline(left, MID, divs[-1], MID, "#e0e0e0", 1)
    for X in divs:
        pline(X, TOP, X, BOT, "#cccccc", 1)
    text((left + divs[0]) / 2, 742, "SOX18", size=9.5, bold=True, family=CAL, xanchor="center")
    text((left + divs[0]) / 2 + 1.5, 768, "SM4 (μM)", size=9.5, bold=True, family=CAL, xanchor="center")
    for i in range(6):
        cx = (divs[i] + divs[i + 1]) / 2
        text(cx, 742, e_sox18[i], size=10, bold=True, family=CAL, xanchor="center")
        text(cx, 768, e_sm4[i], size=10, bold=True, family=CAL, xanchor="center")

fig.update_layout(annotations=ann, shapes=shapes)
fig.write_html("out.html", config={"displayModeBar": False},
               post_script="document.body.style.margin='0px';document.body.style.overflow='hidden';")
